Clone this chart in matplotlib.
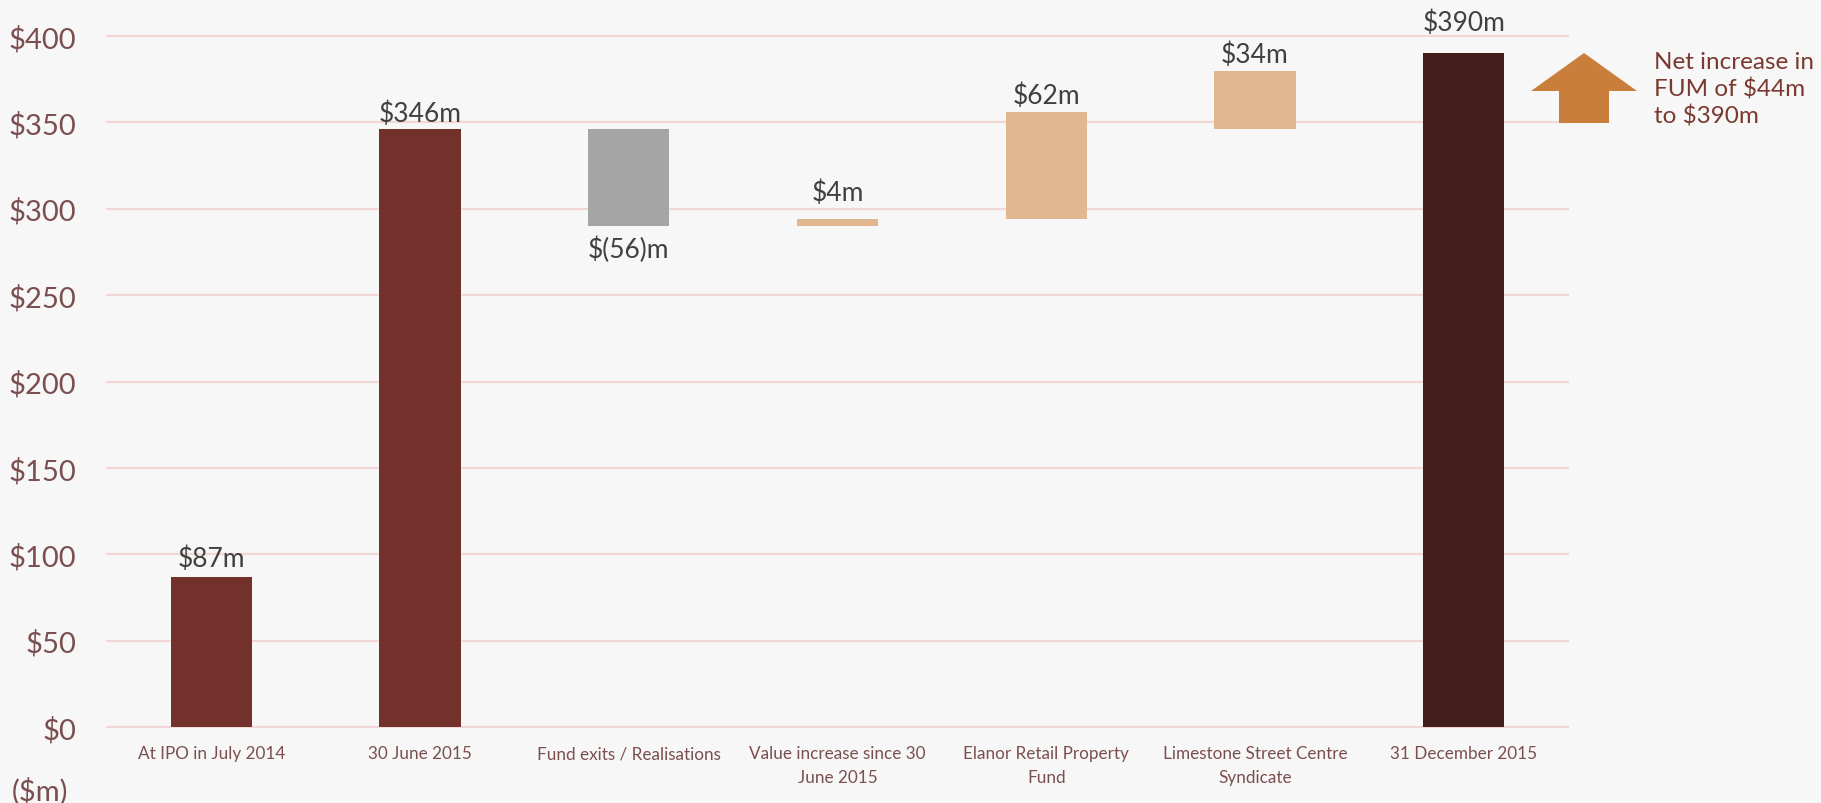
import matplotlib
matplotlib.use("Agg")
import matplotlib.pyplot as plt
from matplotlib.patches import Polygon

plt.rcParams['font.family'] = ['Lato', 'DejaVu Sans']
plt.rcParams['text.parse_math'] = False

# ---- data ----
categories = ["At IPO in July 2014", "30 June 2015", "Fund exits / Realisations",
              "Value increase since 30\nJune 2015", "Elanor Retail Property\nFund",
              "Limestone Street Centre\nSyndicate", "31 December 2015"]
bottoms = [0, 0, 290, 290, 294, 346, 0]
heights = [87, 346, 56, 4, 62, 34, 390]
labels = ["$87m", "$346m", "$(56)m", "$4m", "$62m", "$34m", "$390m"]
yticks = [0, 50, 100, 150, 200, 250, 300, 350, 400]
ytick_labels = ["$0", "$50", "$100", "$150", "$200", "$250", "$300", "$350", "$400"]

# ---- style ----
colors = ["#72312A", "#72312A", "#A5A5A5", "#E2B68F", "#E2B68F", "#E2B68F", "#421F1A"]
label_below = [False, False, True, False, False, False, False]
label_offset_px = [6, 3, 10, 14, 4, 4, 18]
bg = "#F7F7F7"
tick_color = "#7B4F4F"
W, H = 1821, 804

fig = plt.figure(figsize=(W / 100, H / 100), dpi=100, facecolor=bg)
ax = fig.add_axes([107 / W, 76 / H, (1568 - 107) / W, (728 - 37) / H], facecolor=bg)

x = list(range(len(categories)))
ax.bar(x, heights, bottom=bottoms, width=0.39, color=colors, zorder=3)

ax.set_xlim(-0.5, len(categories) - 0.5)
ax.set_ylim(0, 400)
ax.set_yticks(yticks)
ax.set_yticklabels(ytick_labels, fontsize=21, color=tick_color)
ax.set_xticks(x)
ax.set_xticklabels(categories, fontsize=12.3, color=tick_color, linespacing=1.6)
ax.tick_params(axis='both', length=0)
ax.tick_params(axis='y', pad=22)
ax.tick_params(axis='x', pad=13)
ax.yaxis.grid(True, color="#F3D6D6", linewidth=1.6, zorder=0)
for gl in ax.get_ygridlines():
    gl.set_clip_on(False)
ax.set_axisbelow(True)
for s in ax.spines.values():
    s.set_visible(False)

for i in x:
    if label_below[i]:
        ax.annotate(labels[i], (i, bottoms[i]), xytext=(0, -label_offset_px[i] * 0.72),
                    textcoords='offset points', ha='center', va='top',
                    fontsize=19, color="#404040", annotation_clip=False)
    else:
        ax.annotate(labels[i], (i, bottoms[i] + heights[i]), xytext=(0, label_offset_px[i] * 0.72),
                    textcoords='offset points', ha='center', va='bottom',
                    fontsize=19, color="#404040", annotation_clip=False)

fig.text(12 / W, 1 - 792 / H, "($m)", fontsize=21, color=tick_color, ha='left', va='center')

# arrow annotation (pixel coordinates -> figure fraction)
pts = [(1584, 54), (1637, 92), (1609, 92), (1609, 124), (1559, 124), (1559, 92), (1531, 92)]
poly = Polygon([(px / W, 1 - py / H) for px, py in pts], closed=True,
               transform=fig.transFigure, facecolor="#C97F3B", edgecolor="none")
fig.add_artist(poly)
fig.text(1654 / W, 1 - 90 / H, "Net increase in\nFUM of $44m\nto $390m", fontsize=17.5,
         color="#7A3A30", ha='left', va='center', linespacing=1.3)

fig.savefig("out.png", dpi=100, facecolor=bg)
